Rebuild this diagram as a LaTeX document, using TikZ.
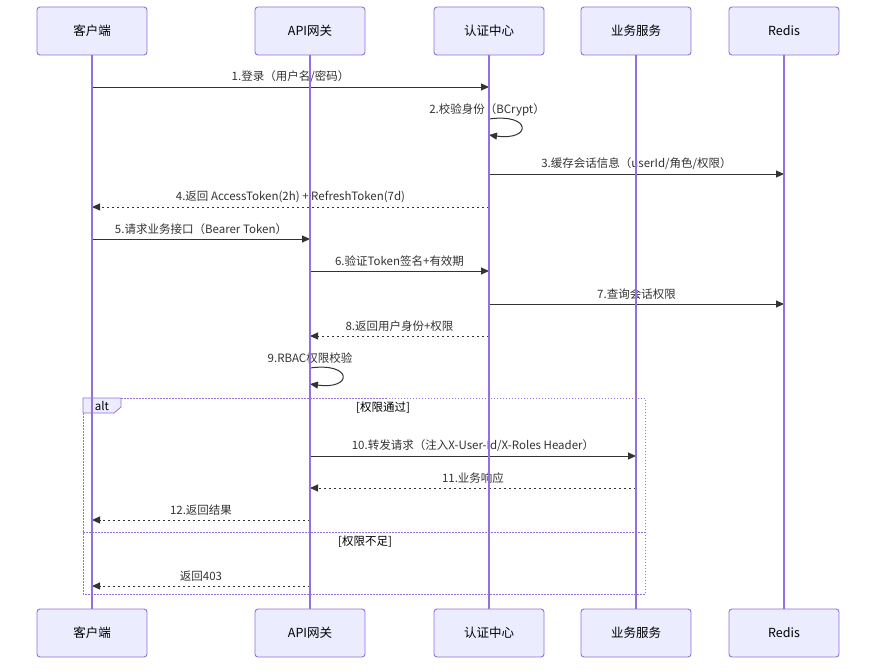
\documentclass[tikz,border=0pt]{standalone}
\usepackage{fontspec}
\setmainfont{Noto Sans CJK SC}
\usetikzlibrary{arrows.meta}
\definecolor{boxfill}{HTML}{ECECFF}
\definecolor{boxline}{HTML}{9370DB}
\definecolor{txt}{HTML}{333333}
\begin{document}
\begin{tikzpicture}[x=1pt,y=-1pt,
  part/.style={draw=boxline, fill=boxfill, rounded corners=3pt, minimum width=110pt, minimum height=48pt, line width=0.9pt, font=\fontsize{12.5}{15}\selectfont, text=black, inner sep=0pt},
  life/.style={draw=boxline, line width=1.2pt},
  msg/.style={draw=txt, line width=1pt, -{Triangle[length=8pt,width=7pt]}},
  ret/.style={msg, dash pattern=on 2.5pt off 2.5pt},
  lbl/.style={font=\fontsize{11.5}{14}\selectfont, text=txt, inner sep=0pt},
  frame/.style={draw=boxline, line width=1pt, dash pattern=on 1.5pt off 1.5pt},
]
\useasboundingbox (0,0) rectangle (884,672);
\fill[white] (0,0) rectangle (884,672);

% participants
\node[part] (tA) at (92,31) {客户端};
\node[part] (tB) at (310,31) {API网关};
\node[part] (tC) at (489,31) {认证中心};
\node[part] (tD) at (636,31) {业务服务};
\node[part] (tE) at (784,31) {Redis};
\node[part] (bA) at (92,633) {客户端};
\node[part] (bB) at (310,633) {API网关};
\node[part] (bC) at (489,633) {认证中心};
\node[part] (bD) at (636,633) {业务服务};
\node[part] (bE) at (784,633) {Redis};

% alt frame
\draw[frame] (83,398) rectangle (645,594);
\draw[frame] (83,532) -- (645,532);
\draw[draw=boxline, fill=boxfill, line width=0.8pt] (83,398) -- (121,398) -- (121,407) -- (114,413) -- (83,413) -- cycle;
\node[lbl, text=black] (altlbl) at (102,406) {alt};
\node[lbl, text=black] (g1) at (383,408) {[权限通过]};
\node[lbl, text=black] (g2) at (365,542) {[权限不足]};

% message end points
\coordinate (m1a) at (92,87);   \coordinate (m1b) at (489,87);
\coordinate (m2a) at (489,119); \coordinate (m2b) at (489,135);
\coordinate (m3a) at (489,174); \coordinate (m3b) at (784,174);
\coordinate (m4a) at (489,207); \coordinate (m4b) at (92,207);
\coordinate (m5a) at (92,239);  \coordinate (m5b) at (310,239);
\coordinate (m6a) at (310,271); \coordinate (m6b) at (489,271);
\coordinate (m7a) at (489,304); \coordinate (m7b) at (784,304);
\coordinate (m8a) at (489,336); \coordinate (m8b) at (310,336);
\coordinate (m9a) at (310,368); \coordinate (m9b) at (310,384);
\coordinate (m10a) at (310,456); \coordinate (m10b) at (636,456);
\coordinate (m11a) at (636,488); \coordinate (m11b) at (310,488);
\coordinate (m12a) at (310,520); \coordinate (m12b) at (92,520);
\coordinate (m13a) at (310,586); \coordinate (m13b) at (92,586);

% messages
\draw[msg] (m1a) -- node[lbl, midway, yshift=10pt] {1.登录（用户名/密码）} (m1b);
\draw[msg] (m2a) .. controls (532,113) and (532,141) .. (m2b);
\node[lbl] (l2) at (487,110) {2.校验身份（BCrypt）};
\draw[msg] (m3a) -- node[lbl, midway, yshift=10pt] {3.缓存会话信息（userId/角色/权限）} (m3b);
\draw[ret] (m4a) -- node[lbl, midway, yshift=10pt] {4.返回 AccessToken(2h) + RefreshToken(7d)} (m4b);
\draw[msg] (m5a) -- node[lbl, midway, yshift=10pt] {5.请求业务接口（Bearer Token）} (m5b);
\draw[msg] (m6a) -- node[lbl, midway, yshift=10pt] {6.验证Token签名+有效期} (m6b);
\draw[msg] (m7a) -- node[lbl, midway, yshift=10pt] {7.查询会话权限} (m7b);
\draw[ret] (m8a) -- node[lbl, midway, yshift=10pt] {8.返回用户身份+权限} (m8b);
\draw[msg] (m9a) .. controls (353,362) and (353,390) .. (m9b);
\node[lbl] (l9) at (310,358) {9.RBAC权限校验};
\draw[msg] (m10a) -- node[lbl, midway, yshift=10pt] {10.转发请求（注入X-User-Id/X-Roles Header）} (m10b);
\draw[ret] (m11a) -- node[lbl, midway, yshift=10pt] {11.业务响应} (m11b);
\draw[ret] (m12a) -- node[lbl, midway, yshift=10pt] {12.返回结果} (m12b);
\draw[ret] (m13a) -- node[lbl, midway, yshift=10pt] {返回403} (m13b);

% lifelines
\draw[life] (tA.south) -- (bA.north);
\draw[life] (tB.south) -- (bB.north);
\draw[life] (tC.south) -- (bC.north);
\draw[life] (tD.south) -- (bD.north);
\draw[life] (tE.south) -- (bE.north);
\end{tikzpicture}
\end{document}
